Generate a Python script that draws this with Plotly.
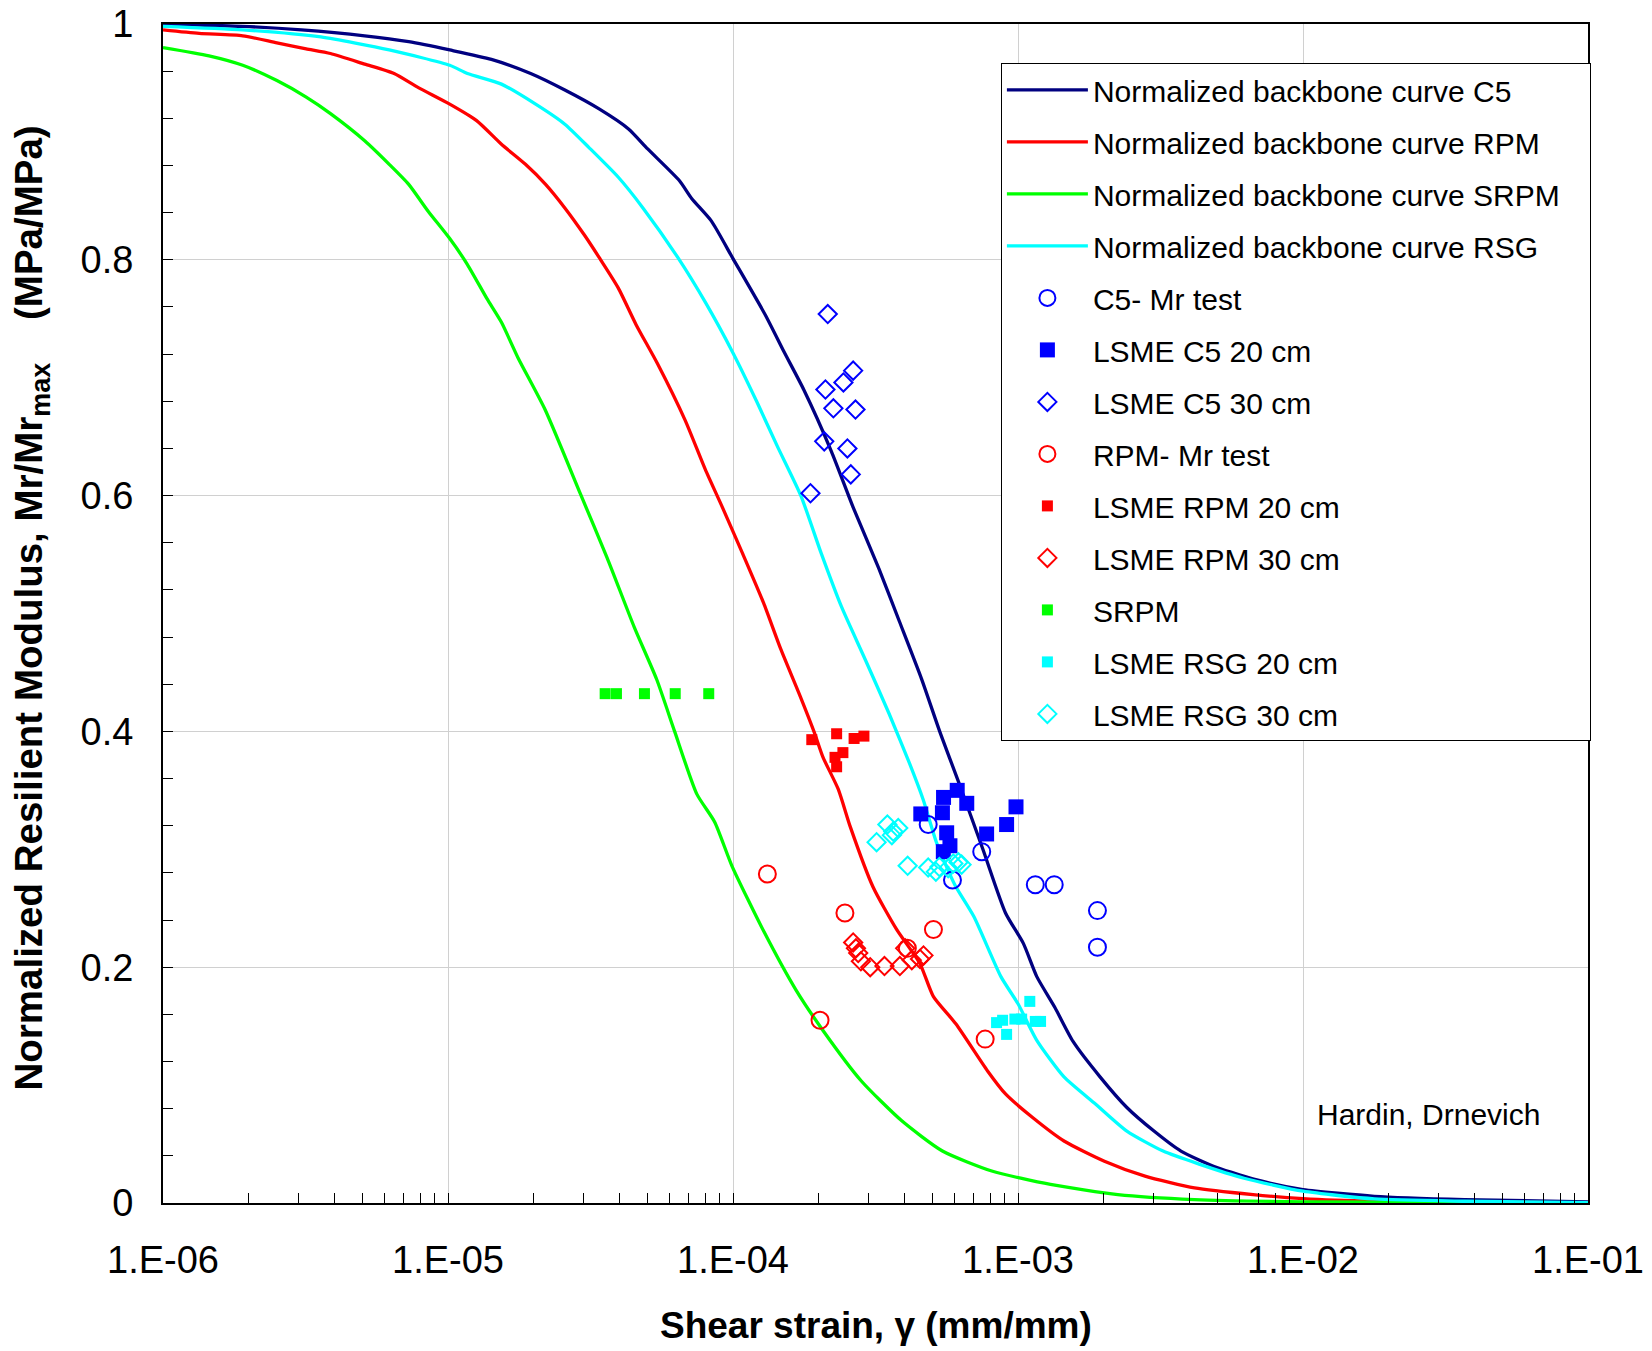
import plotly.graph_objects as go

FONT = "Liberation Sans, Arial, sans-serif"

# ---------------- Backbone curves (strain, normalized modulus) ----------------
c5_x = [1.0e-6, 1.905e-6, 3.06e-6, 5.10e-6, 7.28e-6, 1.014e-5, 1.42e-5, 1.95e-5, 2.57e-5,
        3.39e-5, 4.30e-5, 5.02e-5, 6.49e-5, 7.16e-5, 8.39e-5, 1.0e-4, 1.30e-4, 1.51e-4,
        1.77e-4, 2.21e-4, 2.64e-4, 3.25e-4, 3.84e-4, 4.58e-4, 5.33e-4, 6.19e-4, 7.53e-4,
        9.04e-4, 1.045e-3, 1.164e-3, 1.346e-3, 1.56e-3, 1.94e-3, 2.41e-3, 3.00e-3, 3.73e-3,
        4.99e-3, 7.18e-3, 1.0e-2, 1.78e-2, 3.69e-2, 1.0e-1]
c5_y = [1.000, 0.998, 0.995, 0.990, 0.985, 0.978, 0.970, 0.958, 0.944,
        0.928, 0.911, 0.894, 0.867, 0.852, 0.833, 0.801, 0.753, 0.722,
        0.690, 0.638, 0.590, 0.538, 0.493, 0.445, 0.399, 0.357, 0.300,
        0.246, 0.220, 0.192, 0.166, 0.137, 0.107, 0.081, 0.061, 0.044,
        0.030, 0.0185, 0.0114, 0.0057, 0.0029, 0.001]

rpm_x = [1.0e-6, 1.34e-6, 1.905e-6, 2.51e-6, 3.18e-6, 3.87e-6, 5.10e-6, 6.47e-6, 7.87e-6,
         1.014e-5, 1.26e-5, 1.54e-5, 1.87e-5, 2.20e-5, 2.57e-5, 3.01e-5, 3.39e-5, 3.96e-5,
         4.57e-5, 5.43e-5, 6.79e-5, 8.00e-5, 9.18e-5, 1.08e-4, 1.28e-4, 1.47e-4, 1.72e-4,
         1.93e-4, 2.07e-4, 2.34e-4, 2.58e-4, 3.10e-4, 3.75e-4, 4.53e-4, 5.05e-4, 6.05e-4,
         7.82e-4, 9.04e-4, 1.125e-3, 1.45e-3, 2.01e-3, 2.79e-3, 4.16e-3, 6.68e-3, 1.0e-2,
         1.78e-2, 1.0e-1]
rpm_y = [0.995, 0.992, 0.990, 0.984, 0.979, 0.975, 0.966, 0.958, 0.946,
         0.932, 0.918, 0.898, 0.881, 0.864, 0.844, 0.821, 0.802, 0.776,
         0.745, 0.712, 0.664, 0.622, 0.590, 0.551, 0.509, 0.470, 0.430,
         0.399, 0.378, 0.351, 0.319, 0.268, 0.232, 0.203, 0.175, 0.152,
         0.112, 0.0925, 0.0725, 0.0526, 0.0355, 0.0228, 0.0128, 0.0071, 0.0037,
         0.0015, 0.0001]

srpm_x = [1.0e-6, 1.45e-6, 1.905e-6, 2.51e-6, 3.18e-6, 3.87e-6, 5.10e-6, 6.22e-6, 7.28e-6,
          8.53e-6, 1.014e-5, 1.17e-5, 1.37e-5, 1.54e-5, 1.76e-5, 2.19e-5, 2.92e-5, 3.62e-5,
          4.51e-5, 5.40e-5, 6.24e-5, 7.46e-5, 8.63e-5, 9.91e-5, 1.285e-4, 1.66e-4, 2.06e-4,
          2.82e-4, 3.91e-4, 5.43e-4, 8.09e-4, 1.30e-3, 2.24e-3, 4.16e-3, 1.03e-2, 1.0e-1]
srpm_y = [0.980, 0.973, 0.965, 0.952, 0.938, 0.924, 0.901, 0.881, 0.864,
          0.841, 0.818, 0.796, 0.767, 0.747, 0.717, 0.673, 0.601, 0.547,
          0.488, 0.444, 0.400, 0.347, 0.323, 0.286, 0.230, 0.181, 0.147,
          0.1035, 0.0697, 0.0441, 0.0271, 0.0157, 0.0071, 0.0029, 0.001, 0.0002]

rsg_x = [1.0e-6, 1.905e-6, 3.58e-6, 6.22e-6, 1.014e-5, 1.17e-5, 1.54e-5, 2.03e-5, 2.57e-5,
         3.13e-5, 3.96e-5, 4.83e-5, 6.40e-5, 8.04e-5, 1.0e-4, 1.21e-4, 1.43e-4, 1.73e-4,
         2.04e-4, 2.40e-4, 2.91e-4, 3.53e-4, 4.16e-4, 4.65e-4, 5.19e-4, 6.00e-4, 7.00e-4,
         8.71e-4, 1.0e-3, 1.164e-3, 1.45e-3, 1.87e-3, 2.41e-3, 3.23e-3, 4.32e-3, 6.21e-3,
         1.0e-2, 1.78e-2, 3.69e-2, 1.0e-1]
rsg_y = [0.998, 0.995, 0.989, 0.978, 0.965, 0.958, 0.949, 0.932, 0.915,
         0.895, 0.870, 0.844, 0.802, 0.763, 0.721, 0.680, 0.642, 0.600,
         0.551, 0.506, 0.461, 0.415, 0.373, 0.342, 0.305, 0.270, 0.243,
         0.192, 0.169, 0.138, 0.107, 0.084, 0.061, 0.044, 0.033, 0.021,
         0.010, 0.0035, 0.0015, 0.0002]

# ---------------- Test data ----------------
c5_mr_x = [4.84e-4, 7.46e-4, 5.89e-4, 1.15e-3, 1.34e-3, 1.90e-3, 1.90e-3]
c5_mr_y = [0.321, 0.298, 0.274, 0.270, 0.270, 0.248, 0.217]

c5_20_x = [4.56e-4, 5.48e-4, 6.12e-4, 6.61e-4, 5.43e-4, 5.62e-4, 5.77e-4, 5.47e-4, 7.76e-4, 9.12e-4, 9.84e-4]
c5_20_y = [0.330, 0.344, 0.350, 0.339, 0.331, 0.314, 0.303, 0.298, 0.313, 0.321, 0.336]

c5_30_x = [2.15e-4, 2.64e-4, 2.44e-4, 2.11e-4, 2.25e-4, 2.69e-4, 2.09e-4, 2.52e-4, 2.59e-4, 1.87e-4]
c5_30_y = [0.754, 0.706, 0.696, 0.690, 0.674, 0.673, 0.646, 0.640, 0.618, 0.602]

rpm_mr_x = [1.32e-4, 2.02e-4, 2.47e-4, 5.05e-4, 4.09e-4, 7.67e-4]
rpm_mr_y = [0.279, 0.155, 0.246, 0.232, 0.216, 0.139]

rpm_20_x = [1.89e-4, 2.31e-4, 2.66e-4, 2.88e-4, 2.43e-4, 2.28e-4, 2.31e-4]
rpm_20_y = [0.393, 0.398, 0.394, 0.396, 0.382, 0.378, 0.370]

rpm_30_x = [2.64e-4, 2.70e-4, 2.75e-4, 2.81e-4, 3.03e-4, 3.40e-4, 3.85e-4, 4.02e-4, 4.24e-4, 4.53e-4, 4.66e-4]
rpm_30_y = [0.221, 0.216, 0.212, 0.205, 0.200, 0.201, 0.201, 0.216, 0.206, 0.207, 0.210]

srpm_pts_x = [3.56e-5, 3.90e-5, 4.89e-5, 6.27e-5, 8.22e-5]
srpm_pts_y = [0.432, 0.432, 0.432, 0.432, 0.432]

rsg_20_x = [8.41e-4, 8.83e-4, 9.12e-4, 9.75e-4, 1.03e-3, 1.10e-3, 1.15e-3, 1.20e-3]
rsg_20_y = [0.153, 0.155, 0.143, 0.156, 0.156, 0.171, 0.154, 0.154]

rsg_30_x = [3.19e-4, 3.48e-4, 3.65e-4, 3.80e-4, 3.61e-4, 4.10e-4, 4.84e-4, 5.15e-4, 5.30e-4, 5.93e-4, 6.18e-4, 6.34e-4, 5.69e-4]
rsg_30_y = [0.306, 0.321, 0.315, 0.318, 0.312, 0.286, 0.2845, 0.281, 0.285, 0.288, 0.289, 0.287, 0.284]

x_tickvals = [1e-6, 1e-5, 1e-4, 1e-3, 1e-2, 1e-1]
x_ticktext = ["1.E-06", "1.E-05", "1.E-04", "1.E-03", "1.E-02", "1.E-01"]
y_tickvals = [0, 0.2, 0.4, 0.6, 0.8, 1.0]
y_ticktext = ["0", "0.2", "0.4", "0.6", "0.8", "1"]

NAVY, RED, GREEN, CYAN, BLUE = "#000080", "#FF0000", "#00FF00", "#00FFFF", "#0000FF"

fig = go.Figure()


def add_line(x, y, name, color):
    fig.add_trace(go.Scatter(x=x, y=y, mode="lines", name=name, legendgroup=name,
                             line=dict(color=color, width=3.3, shape="spline", smoothing=0.6)))


def add_pts(x, y, name, color, symbol, size, lw=0):
    fig.add_trace(go.Scatter(x=x, y=y, mode="markers", name=name, legendgroup=name,
                             marker=dict(color=color, symbol=symbol, size=size,
                                         line=dict(color=color, width=lw))))


add_line(c5_x, c5_y, "Normalized backbone curve C5", NAVY)
add_line(rpm_x, rpm_y, "Normalized backbone curve RPM", RED)
add_line(srpm_x, srpm_y, "Normalized backbone curve SRPM\u00a0\u00a0\u00a0", GREEN)
add_line(rsg_x, rsg_y, "Normalized backbone curve RSG", CYAN)
add_pts(c5_mr_x, c5_mr_y, "C5- Mr test", BLUE, "circle-open", 17, 2)
add_pts(c5_20_x, c5_20_y, "LSME C5 20 cm", BLUE, "square", 15)
add_pts(c5_30_x, c5_30_y, "LSME C5 30 cm", BLUE, "diamond-open", 14, 2)
add_pts(rpm_mr_x, rpm_mr_y, "RPM- Mr test", RED, "circle-open", 17, 2)
add_pts(rpm_20_x, rpm_20_y, "LSME RPM 20 cm", RED, "square", 11)
add_pts(rpm_30_x, rpm_30_y, "LSME RPM 30 cm", RED, "diamond-open", 14, 2)
add_pts(srpm_pts_x, srpm_pts_y, "SRPM", GREEN, "square", 11)
add_pts(rsg_20_x, rsg_20_y, "LSME RSG 20 cm", CYAN, "square", 11)
add_pts(rsg_30_x, rsg_30_y, "LSME RSG 30 cm", CYAN, "diamond-open", 14, 2)

# page body has an 8px margin; size the figure so the plot area lands where the reference has it
fig.update_layout(
    width=1644, height=1343,
    margin=dict(l=155, r=64, t=16, b=148, autoexpand=False),
    paper_bgcolor="white", plot_bgcolor="white",
    font=dict(family=FONT, color="black", size=30),
    showlegend=True,
    legend=dict(x=0.588, y=0.967, xanchor="left", yanchor="top",
                bgcolor="white", bordercolor="black", borderwidth=1,
                font=dict(family=FONT, size=30, color="black"),
                tracegroupgap=10, itemwidth=81, traceorder="grouped"),
    xaxis=dict(type="log", range=[-6, -1], tickmode="array",
               tickvals=x_tickvals, ticktext=x_ticktext, automargin=False,
               ticklabeloverflow="allow",
               ticks="inside", ticklen=10, tickcolor="black", tickwidth=1,
               showgrid=True, gridcolor="#D0D0D0", gridwidth=1.2,
               showline=True, linecolor="black", linewidth=2, mirror=True,
               tickfont=dict(family=FONT, size=38, color="black"),
               ticklabelstandoff=22,
               minor=dict(ticks="inside", ticklen=10, tickcolor="black", tickwidth=1,
                          dtick="D1", showgrid=False),
               zeroline=False),
    yaxis=dict(range=[0, 1], tickmode="array", tickvals=y_tickvals, ticktext=y_ticktext,
               automargin=False, ticklabeloverflow="allow",
               ticks="inside", ticklen=10, tickcolor="black", tickwidth=1,
               showgrid=True, gridcolor="#D0D0D0", gridwidth=1.2,
               showline=True, linecolor="black", linewidth=2, mirror=True,
               tickfont=dict(family=FONT, size=38, color="black"),
               ticklabelstandoff=20,
               minor=dict(ticks="inside", ticklen=10, tickcolor="black", tickwidth=1,
                          dtick=0.04, showgrid=False),
               zeroline=False),
    annotations=[
        dict(text="<b>Shear strain, \u03b3 (mm/mm)</b>", xref="paper", yref="paper",
             x=0.5, y=-0.1038, xanchor="center", yanchor="middle", showarrow=False,
             font=dict(family=FONT, size=37, color="black")),
        dict(text="<b>Normalized Resilient Modulus, Mr/Mr<sub>max</sub>\u00a0\u00a0\u00a0\u00a0(MPa/MPa)</b>",
             xref="paper", yref="paper", x=-0.092, y=0.505, textangle=-90,
             xanchor="center", yanchor="middle", showarrow=False,
             font=dict(family=FONT, size=38.5, color="black")),
        dict(text="Hardin, Drnevich", xref="paper", yref="paper", x=0.888, y=0.0747,
             xanchor="center", yanchor="middle", showarrow=False,
             font=dict(family=FONT, size=30, color="black")),
    ],
)

fig.write_html("out.html")
